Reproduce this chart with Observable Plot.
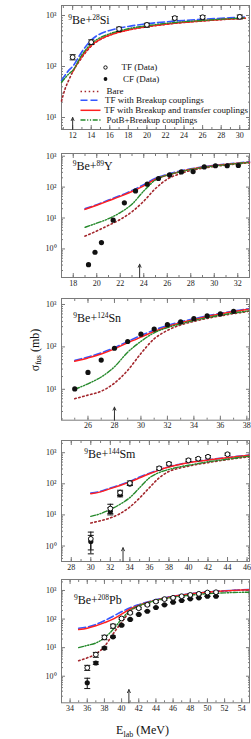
<!DOCTYPE html>
<html><head><meta charset="utf-8">
<script src="https://cdn.jsdelivr.net/npm/d3@7"></script>
<script src="https://cdn.jsdelivr.net/npm/@observablehq/plot@0.6"></script>
<style>
body{margin:0;background:#fff;}
#wrap{position:relative;width:251px;height:739px;overflow:hidden;font-family:"Liberation Serif","Times New Roman",serif;}
.panel{position:absolute;left:0;}
.panel svg{display:block;}
#over{position:absolute;left:0;top:0;pointer-events:none;}
</style></head>
<body><div id="wrap"></div>
<script>
// ---------- Panel 1: 9Be+28Si ----------
const siE    = [10.8, 11.2, 11.6, 12, 13, 14, 15, 16, 18, 20, 22, 24, 26, 28, 30, 30.6];
const siBare = [21, 37, 55, 78, 150, 250, 340, 410, 520, 600, 670, 730, 780, 830, 870, 880];
const siBU   = [53, 68, 85, 100, 195, 330, 440, 510, 610, 690, 750, 800, 845, 880, 920, 930];
const siBUT  = [null, null, null, 78, 160, 260, 345, 415, 520, 605, 675, 735, 785, 835, 875, 885];
const siPotB = [49, 60, 72, 83, 170, 280, 370, 440, 550, 630, 700, 755, 800, 845, 885, 895];
const siTFE  = [12, 14, 17, 20, 23, 26, 30];
const siTF   = [152, 300, 545, 655, 890, 925, 940];
const siTFlo = [135, 270, 490, 590, 820, 850, 860];
const siTFhi = [170, 333, 590, 705, 955, 1000, 1020];
// ---------- Panel 2: 9Be+89Y ----------
const yE    = [19, 20, 21, 22, 23, 24, 25, 26, 27, 28, 29, 30, 31, 32, 33];
const yBare = [2.6, 3.8, 5.8, 9, 16, 35, 90, 180, 265, 345, 410, 465, 515, 565, 615];
const yBU   = [20, 27, 38, 53, 78, 120, 195, 260, 325, 390, 450, 505, 555, 605, 655];
const yBUT  = [19, 26, 36, 50, 72, 110, 180, 245, 310, 375, 435, 490, 540, 590, 640];
const yPotB = [5, 6.8, 9.5, 15, 28, 75, 170, 245, 305, 370, 430, 480, 530, 580, 630];
const yCFE  = [19.3, 19.85, 20.4, 21.4, 22.35, 23.3, 24.3, 25.25, 26.2, 27.2, 28.2, 29.15, 30.1, 31.1, 32.05];
const yCF   = [0.31, 0.78, 1.6, 8.5, 31, 75, 124, 190, 248, 310, 318, 450, 490, 490, 500];
// ---------- Panel 3: 9Be+124Sn ----------
const snE    = [25, 26, 27, 28, 29, 30, 31, 32, 33, 34, 35, 36, 37, 38, 38.1];
const snBare = [6, 7.3, 9, 14, 28, 70, 155, 245, 330, 400, 470, 540, 610, 680, 690];
const snBU   = [48, 58, 72, 96, 135, 185, 250, 320, 390, 460, 540, 620, 700, 780, 790];
const snBUT  = [46, 55, 68, 90, 125, 170, 230, 300, 370, 440, 520, 600, 680, 760, 770];
const snPotB = [10, 13.5, 19.5, 34, 75, 135, 215, 285, 350, 420, 490, 560, 630, 700, 710];
const snCFE  = [25, 26, 27, 28, 29, 30, 31, 32, 33, 34, 35, 36, 37];
const snCF   = [10.2, 25, 49, 93, 134, 200, 263, 335, 388, 464, 540, 600, 690];
// ---------- Panel 4: 9Be+144Sm ----------
const smE    = [30, 31, 32, 33, 34, 35, 36, 37, 38, 39, 40, 41, 42, 43, 44, 45, 46.2];
const smBare = [5.5, 6.5, 8, 11, 18, 35, 75, 155, 250, 315, 370, 425, 480, 540, 600, 665, 740];
const smBU   = [50, 57, 73, 92, 120, 165, 220, 285, 355, 420, 485, 540, 590, 645, 700, 760, 840];
const smBUT  = [48, 55, 70, 88, 115, 155, 210, 275, 345, 410, 475, 530, 580, 635, 690, 750, 830];
const smPotB = [9, 11, 15, 22, 36, 75, 155, 230, 290, 345, 395, 450, 510, 565, 620, 690, 770];
const smTFE  = [30, 32, 33, 34, 37, 38, 40, 41, 42, 44];
const smTF   = [1.7, 16, 52, 105, 315, 440, 570, 640, 740, 890];
const smTFlo = [0.56, 11, 42, 92, 285, 400, 520, 590, 680, 820];
const smTFhi = [2.8, 22, 62, 123, 350, 490, 630, 700, 810, 970];
const smCFE  = [30, 32, 33, 34];
const smCF   = [1.4, 13, 45, 98];
const smCFlo = [0.75, 10, 38, 88];
const smCFhi = [2.2, 17, 55, 110];
// ---------- Panel 5: 9Be+208Pb ----------
const pbE    = [35, 36, 37, 38, 39, 40, 41, 42, 43, 44, 45, 46, 47, 48, 49, 50, 51, 52, 53, 54.8];
const pbBare = [3.5, 4.4, 6, 11, 30, 77, 185, 290, 375, 455, 535, 615, 685, 755, 815, 865, 915, 960, 1000, 1060];
const pbBU   = [48, 53, 65, 88, 125, 180, 250, 320, 395, 475, 550, 630, 700, 770, 830, 885, 935, 980, 1020, 1080];
const pbBUT  = [43, 48, 58, 75, 100, 150, 225, 300, 380, 460, 540, 620, 690, 760, 820, 875, 925, 970, 1010, 1070];
const pbPotB = [10, 12, 14.5, 22, 43, 100, 200, 290, 370, 450, 520, 585, 640, 690, 730, 770, 800, 825, 850, 870];
const pbTFE  = [36, 37, 38, 39, 40, 41, 42, 43, 44, 45, 46, 47, 48, 49, 50, 51];
const pbTF   = [1.97, 5.7, 23, 57, 105, 165, 240, 316, 410, 500, 555, 630, 700, 765, 850, 870];
const pbTFlo = [1.6, 4.6, 19, 48, 97, 152, 221, 291, 377, 460, 511, 580, 644, 704, 782, 800];
const pbTFhi = [2.4, 6.8, 27, 66, 113, 178, 259, 341, 443, 540, 599, 680, 756, 826, 918, 940];
const pbCFE  = [36, 37, 38, 39, 40, 41, 42, 43, 44, 45, 46, 47, 48, 49, 50, 51];
const pbCF   = [0.59, 2.9, 9.7, 24, 61, 97, 145, 188, 254, 316, 390, 447, 510, 555, 630, 630];
const pbCFlo = [0.37, 2.6, 8.9, 22.5, 58, 93, 140, 182, 247, 308, 381, 437, 499, 543, 617, 617];
const pbCFhi = [0.85, 3.2, 10.5, 25.5, 64, 101, 150, 194, 261, 324, 399, 457, 521, 567, 643, 643];
// ---------- Coulomb-barrier arrows ----------
const barrierE   = [12, 23.65, 28, 33.3, 40.85];
const barrierTip = [10, 0.32, 3.8, 0.88, 0.34];
// ---------- Labels ----------
const targetMass = ["28", "89", "124", "144", "208"];
const targetSym  = ["Si", "Y", "Sn", "Sm", "Pb"];
const xTickLabels = [
  [12, 14, 16, 18, 20, 22, 24, 26, 28, 30],
  [18, 20, 22, 24, 26, 28, 30, 32],
  [26, 28, 30, 32, 34, 36, 38],
  [28, 30, 32, 34, 36, 38, 40, 42, 44, 46],
  [34, 36, 38, 40, 42, 44, 46, 48, 50, 52, 54]
];
const legendLabels = ["TF (Data)", "CF (Data)", "Bare", "TF with Breakup couplings",
  "TF with Breakup and transfer couplings", "PotB+Breakup couplings"];
const yTitle = ["σ", "fus", " (mb)"];
const xTitle = ["E", "lab", " (MeV)"];

// ---------- assemble ----------
const zipErr = (E, v, lo, hi) => E.map((e, i) => ({E: e, v: v[i], lo: lo ? lo[i] : null, hi: hi ? hi[i] : null}));
const curvesOf = (E, bare, bu, but, potb) => ({bare: E.map((e,i)=>({E:e,v:bare[i]})), potb: E.map((e,i)=>({E:e,v:potb[i]})),
  bu: E.map((e,i)=>({E:e,v:bu[i]})), but: E.map((e,i)=>({E:e,v:but[i]}))});

const modelStyles = [
  {key: "bare", stroke: "#a3262c", dash: "1.5,2.6", width: 1.6},
  {key: "bu",   stroke: "#3557ff", dash: "7,3", width: 1.6},
  {key: "but",  stroke: "#ff2020", dash: null, width: 1.5},
  {key: "potb", stroke: "#25892b", dash: "5,1.6,1.2,1.6,1.2,1.6", width: 1.4}
];

const panels = [
  {xDomain: [10.8, 31.05], yDomain: [5.82, 1570], top: 5, bottom: 129,
   curves: curvesOf(siE, siBare, siBU, siBUT, siPotB), tf: zipErr(siTFE, siTF, siTFlo, siTFhi), cf: [], label: [68.3, 24]},
  {xDomain: [17, 33], yDomain: [0.119, 1222], top: 153.3, bottom: 277.3,
   curves: curvesOf(yE, yBare, yBU, yBUT, yPotB), tf: [], cf: zipErr(yCFE, yCF), label: [72.7, 170]},
  {xDomain: [24, 38.2], yDomain: [1.87, 1385], top: 298.3, bottom: 420,
   curves: curvesOf(snE, snBare, snBU, snBUT, snPotB), tf: [], cf: zipErr(snCFE, snCF), label: [73.3, 322.3]},
  {xDomain: [27, 46.25], yDomain: [0.318, 2465], top: 439.5, bottom: 560.5,
   curves: curvesOf(smE, smBare, smBU, smBUT, smPotB), tf: zipErr(smTFE, smTF, smTFlo, smTFhi), cf: zipErr(smCFE, smCF, smCFlo, smCFhi), label: [84.3, 458.3]},
  {xDomain: [33, 54.9], yDomain: [0.1175, 2426], top: 579, bottom: 702.3,
   curves: curvesOf(pbE, pbBare, pbBU, pbBUT, pbPotB), tf: zipErr(pbTFE, pbTF, pbTFlo, pbTFhi), cf: zipErr(pbCFE, pbCF, pbCFlo, pbCFhi), label: [74, 604.3]}
];

const cap = {draw(ctx, size) { const r = Math.sqrt(size / Math.PI); ctx.moveTo(-r, 0); ctx.lineTo(r, 0); }};
const supDigits = {"-1": "⁻¹", "0": "⁰", "1": "¹", "2": "²", "3": "³"};
const fmtY = d => "10" + supDigits[String(Math.round(Math.log10(d)))];
const AX = "#7a7a7a";
const MT = 2, MB = 14;

function makePanel(p, idx) {
  const [y0, y1] = p.yDomain;
  const majorY = [], minorY = [];
  for (let k = Math.floor(Math.log10(y0)) ; k <= Math.ceil(Math.log10(y1)); k++) {
    const v = Math.pow(10, k);
    if (v >= y0 && v <= y1) majorY.push(v);
    for (let m = 2; m <= 9; m++) { const w = m * v; if (w > y0 && w < y1) minorY.push(w); }
  }
  const minorX = d3.range(Math.ceil(p.xDomain[0]), p.xDomain[1], 1);
  const majorX = xTickLabels[idx];
  const blank = () => "";
  const marks = [];
  for (const anchor of ["bottom", "top"]) {
    marks.push(Plot.axisX(majorX, {anchor, tickSize: -4, tickFormat: blank, label: null, stroke: AX}));
    marks.push(Plot.axisX(minorX, {anchor, tickSize: -2, tickFormat: blank, label: null, stroke: AX}));
  }
  for (const anchor of ["left", "right"]) {
    marks.push(Plot.axisY(majorY, {anchor, tickSize: -4, tickFormat: blank, label: null, stroke: AX}));
    marks.push(Plot.axisY(minorY, {anchor, tickSize: -2, tickFormat: blank, label: null, stroke: AX}));
  }
  marks.push(Plot.axisX(majorX, {anchor: "bottom", tickSize: 0, tickPadding: 2.5, label: null, fill: "#222"}));
  marks.push(Plot.axisY(majorY, {anchor: "left", tickSize: 0, tickPadding: 5, tickFormat: fmtY, label: null, fill: "#222"}));
  marks.push(Plot.frame({stroke: AX}));
  for (const s of modelStyles) {
    marks.push(Plot.line(p.curves[s.key], {x: "E", y: "v", stroke: s.stroke, strokeWidth: s.width,
      strokeDasharray: s.dash, curve: "monotone-x"}));
  }
  marks.push(Plot.arrow([{E: barrierE[idx], tip: barrierTip[idx]}], {x1: "E", x2: "E", y1: () => y0, y2: "tip",
    stroke: "#333", strokeWidth: 1, headLength: 5, headAngle: 50, insetStart: 0, insetEnd: 0}));
  const withErr = arr => arr.filter(d => d.lo != null);
  for (const set of [p.cf, p.tf]) {
    const e = withErr(set);
    marks.push(Plot.ruleX(e, {x: "E", y1: "lo", y2: "hi", stroke: "#111", strokeWidth: 1}));
    marks.push(Plot.dot(e, {x: "E", y: "lo", symbol: cap, r: 3, stroke: "#111", strokeWidth: 1}));
    marks.push(Plot.dot(e, {x: "E", y: "hi", symbol: cap, r: 3, stroke: "#111", strokeWidth: 1}));
  }
  marks.push(Plot.dot(p.cf, {x: "E", y: "v", r: 2.6, fill: "#111", stroke: "none"}));
  marks.push(Plot.dot(p.tf, {x: "E", y: "v", r: 2.4, fill: "#fff", stroke: "#111", strokeWidth: 1}));

  const fh = p.bottom - p.top;
  return Plot.plot({
    width: 251, height: MT + fh + MB,
    marginLeft: 61, marginRight: 2, marginTop: MT, marginBottom: MB,
    x: {domain: p.xDomain},
    y: {type: "log", domain: p.yDomain},
    style: {fontFamily: '"Liberation Serif", "Times New Roman", serif', fontSize: "8px", background: "transparent", overflow: "visible"},
    marks
  });
}

const wrap = d3.select("#wrap");
panels.forEach((p, i) => {
  const div = wrap.append("div").attr("class", "panel").style("top", (p.top - MT) + "px");
  div.node().appendChild(makePanel(p, i));
});

// ---------- overlay: panel labels, legend, axis titles ----------
const over = wrap.append("svg").attr("id", "over").attr("width", 251).attr("height", 739)
  .style("font-family", '"Liberation Serif", "Times New Roman", serif').attr("fill", "#111");

panels.forEach((p, i) => {
  const t = over.append("text").attr("x", p.label[0]).attr("y", p.label[1]).attr("font-size", 12);
  t.append("tspan").attr("font-size", 7.5).attr("dy", -4.5).text("9");
  t.append("tspan").attr("dy", 4.5).text("Be+");
  t.append("tspan").attr("font-size", 7.5).attr("dy", -4.5).text(targetMass[i]);
  t.append("tspan").attr("dy", 4.5).text(targetSym[i]);
});

const lg = over.append("g").attr("font-size", 9);
const rowY = [67.5, 79, 91.5, 100.3, 110.3, 120];
const textX = [121.5, 123, 106.5, 105, 104.3, 106.5];
lg.append("circle").attr("cx", 105.5).attr("cy", rowY[0]).attr("r", 1.7).attr("fill", "#fff").attr("stroke", "#111");
lg.append("circle").attr("cx", 105.5).attr("cy", rowY[1]).attr("r", 1.9).attr("fill", "#111");
const lineOrder = ["bare", "bu", "but", "potb"];
lineOrder.forEach((k, j) => {
  const s = modelStyles.find(m => m.key === k);
  lg.append("line").attr("x1", 80.5).attr("x2", 100.5).attr("y1", rowY[j + 2]).attr("y2", rowY[j + 2])
    .attr("stroke", s.stroke).attr("stroke-width", s.width).attr("stroke-dasharray", s.dash);
});
legendLabels.forEach((l, j) => {
  lg.append("text").attr("x", textX[j]).attr("y", rowY[j]).attr("dy", "0.33em").text(l);
});

const yt = over.append("text").attr("transform", "translate(38.5,350) rotate(-90)")
  .attr("text-anchor", "middle").attr("font-size", 12);
yt.append("tspan").text(yTitle[0]);
yt.append("tspan").attr("font-size", 8).attr("dy", 2.5).text(yTitle[1]);
yt.append("tspan").attr("dy", -2.5).text(yTitle[2]);
const xt = over.append("text").attr("x", 142.5).attr("y", 734).attr("text-anchor", "middle").attr("font-size", 12);
xt.append("tspan").text(xTitle[0]);
xt.append("tspan").attr("font-size", 8).attr("dy", 2.5).text(xTitle[1]);
xt.append("tspan").attr("dy", -2.5).text(xTitle[2]);
</script>
</body></html>
